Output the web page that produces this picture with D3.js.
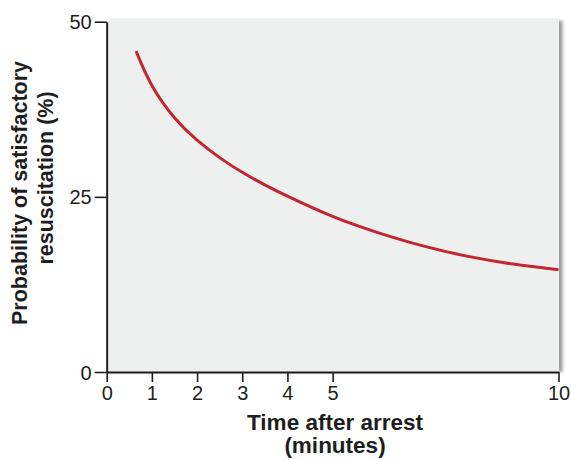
<!DOCTYPE html>
<html>
<head>
<meta charset="utf-8">
<script src="https://cdn.jsdelivr.net/npm/d3@7"></script>
<style>
  html, body { margin: 0; padding: 0; background: #ffffff; }
  svg { display: block; }
  text { font-family: "Liberation Sans", Arial, Helvetica, sans-serif; fill: #1e1e1e; }
</style>
</head>
<body>
<div id="chart"></div>
<script>
// Data
const timeMinutes = [0.65, 1, 1.5, 2, 2.5, 3, 3.5, 4, 5, 6, 7, 8, 9, 10];
const probability = [45.8, 40.9, 36.3, 33.1, 30.6, 28.5, 26.7, 25.1, 22.2, 19.9, 18.0, 16.5, 15.4, 14.6];
const xTickValues = [0, 1, 2, 3, 4, 5, 10];
const yTickValues = [0, 25, 50];
const xLabelLines = ["Time after arrest", "(minutes)"];
const yLabelLines = ["Probability of satisfactory", "resuscitation (%)"];

const W = 571, H = 460;
const svg = d3.select("#chart").append("svg").attr("width", W).attr("height", H);
svg.append("rect").attr("width", W).attr("height", H).attr("fill", "#ffffff");

const x = d3.scaleLinear().domain([0, 10]).range([106.7, 558.5]);
const y = d3.scaleLinear().domain([0, 50]).range([372, 21.7]);

// shadow filter
const defs = svg.append("defs");
const f = defs.append("filter").attr("id", "sh").attr("x", "-10%").attr("y", "-10%").attr("width", "120%").attr("height", "120%");
f.append("feGaussianBlur").attr("stdDeviation", 1.5);

// plot background with shadow
svg.append("rect")
  .attr("x", x(0) + 6).attr("y", y(50) - 1)
  .attr("width", x(10) - x(0) - 2).attr("height", y(0) - y(50) + 1)
  .attr("fill", "#9a9a9a").attr("filter", "url(#sh)");
svg.append("rect")
  .attr("x", x(0) + 2.5).attr("y", y(50) - 3.5)
  .attr("width", x(10) - x(0) - 2).attr("height", y(0) - y(50) + 3.5)
  .attr("fill", "#eef0f0");

// curve
const line = d3.line()
  .x((d, i) => x(timeMinutes[i]))
  .y((d, i) => y(probability[i]))
  .curve(d3.curveNatural);
svg.append("path")
  .datum(probability)
  .attr("d", line)
  .attr("fill", "none")
  .attr("stroke", "#c1272d")
  .attr("stroke-width", 3)
  .attr("stroke-linecap", "butt");

// axes
const xAxis = d3.axisBottom(x).tickValues(xTickValues).tickSize(10).tickSizeOuter(0).tickPadding(4).tickFormat(d3.format("d"));
const yAxis = d3.axisLeft(y).tickValues(yTickValues).tickSize(12).tickSizeOuter(0).tickPadding(3).tickFormat(d3.format("d"));

const gx = svg.append("g").attr("transform", `translate(0,${y(0)})`).call(xAxis);
const gy = svg.append("g").attr("transform", `translate(${x(0)},0)`).call(yAxis);

[gx, gy].forEach(g => {
  g.select(".domain").attr("stroke", "#1e1e1e").attr("stroke-width", 2);
  g.selectAll(".tick line").attr("stroke", "#1e1e1e").attr("stroke-width", 1.6);
  g.selectAll(".tick text").attr("font-size", 20).attr("fill", "#1e1e1e")
    .style("font-family", '"Liberation Sans", Arial, sans-serif');
});
gy.selectAll(".tick text").attr("dy", "0.35em");

// x-axis label
svg.append("text")
  .attr("x", 335).attr("y", 430)
  .attr("text-anchor", "middle")
  .attr("font-size", 22.5).attr("font-weight", "bold")
  .text(xLabelLines[0]);
svg.append("text")
  .attr("x", 335).attr("y", 453)
  .attr("text-anchor", "middle")
  .attr("font-size", 22.5).attr("font-weight", "bold")
  .text(xLabelLines[1]);

// y-axis label
svg.append("text")
  .attr("transform", "translate(27,193) rotate(-90)")
  .attr("text-anchor", "middle")
  .attr("font-size", 21.5).attr("font-weight", "bold")
  .text(yLabelLines[0]);
svg.append("text")
  .attr("transform", "translate(53,178) rotate(-90)")
  .attr("text-anchor", "middle")
  .attr("font-size", 21.5).attr("font-weight", "bold")
  .text(yLabelLines[1]);
</script>
</body>
</html>
